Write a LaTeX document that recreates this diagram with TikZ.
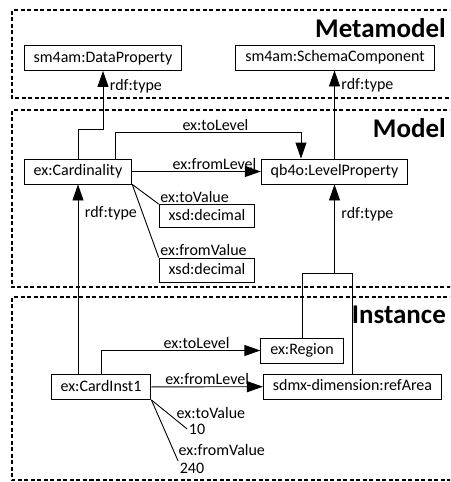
\documentclass[tikz,border=0pt]{standalone}
\usepackage{fontspec}
\setmainfont{Carlito}
\usepackage{tikz}
\usetikzlibrary{arrows.meta, calc}

\begin{document}
\begin{tikzpicture}[x=1pt, y=-1pt,
    font=\fontsize{16}{18}\selectfont,
    cls/.style={draw, line width=0.9pt, inner xsep=9.5pt, inner ysep=0pt,
                minimum height=25pt, text height=11.5pt, text depth=3.5pt},
    lbl/.style={inner sep=1.5pt},
    arr/.style={line width=0.9pt, -{Triangle[length=16pt, width=11pt]}},
    rel/.style={line width=0.9pt},
    frame/.style={line width=2pt, dash pattern=on 4pt off 2.5pt},
    title/.style={font=\fontsize{27}{30}\selectfont\bfseries, inner sep=0pt, anchor=east}]
    \clip (0,0) rectangle (450,482);
    % Camadas
    \draw[frame] (460,10) -| (12,98) -- (460,98);
    \draw[frame] (460,110) -| (12,287) -- (460,287);
    \draw[frame] (460,297) -| (12,480) -- (460,480);
    % Metamodelo
    \node[cls] (dataprop) at (103,58) {sm4am:DataProperty};
    \node[cls] (schemacomp) at (335,57.5) {sm4am:SchemaComponent};
    % Modelo
    \node[cls] (card) at (78,171.5) {ex:Cardinality};
    \node[cls] (lvlprop) at (334.5,171.5) {qb4o:LevelProperty};
    \node[cls, minimum height=23pt] (dec1) at (207,216) {xsd:decimal};
    \node[cls, minimum height=24pt] (dec2) at (207,270) {xsd:decimal};
    % Instancia
    \node[cls] (inst) at (101,387) {ex:CardInst1};
    \node[cls] (region) at (302,350.5) {ex:Region};
    \node[cls] (refarea) at (352.5,386.5) {sdmx-dimension:refArea};
    \node[lbl] (ten) at (197,429) {10};
    \node[lbl] (twoforty) at (192,468) {240};
    % Arestas do modelo
    \draw[arr] (card.north) -- ++(0,-29) -| node[lbl, right=5pt, pos=0.87] {rdf:type} (dataprop.south);
    \draw[arr] ([xshift=37]card.north) -- ++(0,-26)
        -| node[lbl, above, pos=0.27] {ex:toLevel} ([xshift=-33.5]lvlprop.north);
    \draw[arr] (card) -- node[lbl, above, pos=0.64] {ex:fromLevel} (lvlprop);
    \draw[arr] (lvlprop.north) -- node[lbl, right=5pt, pos=0.83] {rdf:type} (lvlprop.north |- schemacomp.south);
    \draw[rel] (card.south east) -- (dec1.north west);
    \node[lbl, above right] at (dec1.north west) {ex:toValue};
    \draw[rel] (card.south east) -- (dec2.north west);
    \node[lbl, above right] at (dec2.north west) {ex:fromValue};
    % Arestas da instancia
    \draw[arr] (card.south |- inst.north) -- node[lbl, right=5pt, pos=0.85] {rdf:type} (card.south);
    \draw[arr] (inst.north) |- node[lbl, above, pos=0.8] {ex:toLevel} (region.west);
    \draw[arr] (inst) -- node[lbl, above] {ex:fromLevel} (refarea);
    \draw[rel] (inst.south east) -- (ten.west);
    \node[lbl, anchor=west] at (175,413) {ex:toValue};
    \draw[rel] (inst.south east) -- (twoforty.north west);
    \node[lbl, anchor=west] at (177,450) {ex:fromValue};
    \coordinate (join) at ($(lvlprop.south)+(0,89)$);
    \draw[rel] (region.north) |- (join) -| (refarea.north);
    \draw[arr] (join) -- node[lbl, right=5pt, pos=0.67] {rdf:type} (lvlprop.south);
    % Titulos
    \node[title] at (446,28) {Metamodel};
    \node[title] at (446,128) {Model};
    \node[title] at (446,315) {Instance};
\end{tikzpicture}
\end{document}
